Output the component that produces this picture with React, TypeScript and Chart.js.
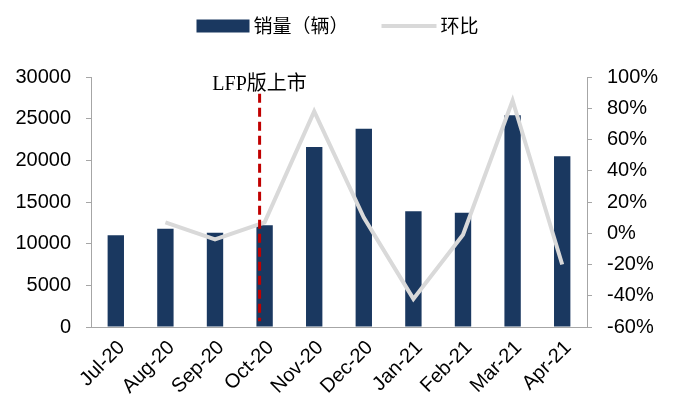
import React, { useEffect, useRef } from "react";
import { Chart, registerables } from "chart.js";

Chart.register(...registerables);

const categories = ["Jul-20", "Aug-20", "Sep-20", "Oct-20", "Nov-20", "Dec-20", "Jan-21", "Feb-21", "Mar-21", "Apr-21"];
const sales = [11000, 11800, 11300, 12200, 21600, 23800, 13900, 13700, 25400, 20500];
const mom = [null, 7, -4, 7, 78, 10, -42, -1, 85, -20];
const salesLabel = "销量（辆）";
const momLabel = "环比";
const leftTicks = [0, 5000, 10000, 15000, 20000, 25000, 30000];
const rightTicks = [-60, -40, -20, 0, 20, 40, 60, 80, 100];
const markerCategory = "Oct-20";
const markerText = "LFP版上市";
const markerTop = 28000;
const markerBottom = 700;

const BAR_COLOR = "#1a3860";
const LINE_COLOR = "#d9d9d9";
const AXIS_COLOR = "#a6a6a6";

const legendPlugin = {
  id: "customLegend",
  afterDraw(chart: any) {
    const ctx = chart.ctx;
    ctx.save();
    ctx.font = '19px "Noto Sans CJK SC", sans-serif';
    ctx.textBaseline = "middle";
    ctx.fillStyle = "#000";
    const w1 = ctx.measureText(salesLabel).width;
    const w2 = ctx.measureText(momLabel).width;
    const rectW = 53, rectH = 13, gapText = 4, gapItems = 33, lineW = 55;
    const total = rectW + gapText + w1 + gapItems + lineW + gapText + w2;
    let x = chart.width / 2 - total / 2;
    const cy = 26;
    ctx.fillStyle = BAR_COLOR;
    ctx.fillRect(x, cy - rectH / 2, rectW, rectH);
    x += rectW + gapText;
    ctx.fillStyle = "#000";
    ctx.textAlign = "left";
    ctx.fillText(salesLabel, x, cy);
    x += w1 + gapItems;
    ctx.strokeStyle = LINE_COLOR;
    ctx.lineWidth = 4;
    ctx.beginPath();
    ctx.moveTo(x, cy);
    ctx.lineTo(x + lineW, cy);
    ctx.stroke();
    x += lineW + gapText;
    ctx.fillText(momLabel, x, cy);
    ctx.restore();
  },
};

const markerPlugin = {
  id: "marker",
  afterDatasetsDraw(chart: any) {
    const ctx = chart.ctx;
    const xs = chart.scales.x;
    const ys = chart.scales.y;
    const idx = categories.indexOf(markerCategory);
    const x = xs.getPixelForValue(idx) - 5;
    ctx.save();
    ctx.strokeStyle = "#c00000";
    ctx.lineWidth = 3;
    ctx.setLineDash([9, 5]);
    ctx.beginPath();
    ctx.moveTo(x, ys.getPixelForValue(markerTop));
    ctx.lineTo(x, ys.getPixelForValue(markerBottom));
    ctx.stroke();
    ctx.setLineDash([]);
    ctx.font = '20px "Liberation Serif", "Noto Sans CJK SC", serif';
    ctx.fillStyle = "#000";
    ctx.textAlign = "center";
    ctx.textBaseline = "middle";
    ctx.fillText(markerText, x, chart.chartArea.top + 8);
    ctx.restore();
  },
};

export default function App() {
  const ref = useRef<HTMLCanvasElement>(null);
  useEffect(() => {
    document.body.style.margin = "0";
    const chart = new Chart(ref.current as HTMLCanvasElement, {
      type: "bar",
      data: {
        labels: categories,
        datasets: [
          {
            type: "line",
            label: momLabel,
            data: mom as any,
            yAxisID: "y1",
            borderColor: LINE_COLOR,
            backgroundColor: LINE_COLOR,
            borderWidth: 4,
            pointRadius: 0,
            tension: 0,
            order: 0,
          } as any,
          {
            type: "bar",
            label: salesLabel,
            data: sales,
            yAxisID: "y",
            backgroundColor: BAR_COLOR,
            barPercentage: 0.33,
            categoryPercentage: 1,
            order: 1,
          },
        ],
      },
      options: {
        responsive: false,
        animation: false,
        layout: { padding: { top: 77, bottom: 0, left: 0, right: 0 } },
        plugins: { legend: { display: false }, tooltip: { enabled: false } },
        scales: {
          x: {
            grid: { display: false, drawTicks: false },
            border: { display: true, color: AXIS_COLOR, width: 1 },
            ticks: {
              autoSkip: false,
              minRotation: 45,
              maxRotation: 45,
              padding: 9,
              labelOffset: 6,
              color: "#000",
              font: { family: '"Liberation Sans", Arial, sans-serif', size: 20 },
            },
            afterFit: (s: any) => { s.height = 83; },
          },
          y: {
            position: "left",
            min: 0,
            max: 30000,
            afterBuildTicks: (s: any) => { s.ticks = leftTicks.map((v) => ({ value: v })); },
            grid: { drawOnChartArea: false, drawTicks: true, tickLength: 5, color: AXIS_COLOR },
            border: { display: true, color: AXIS_COLOR, width: 1 },
            ticks: {
              padding: 15,
              color: "#000",
              callback: (v: any) => String(v),
              font: { family: '"Liberation Sans", Arial, sans-serif', size: 20 },
            },
            afterFit: (s: any) => { s.width = 91; },
          },
          y1: {
            position: "right",
            min: -60,
            max: 100,
            afterBuildTicks: (s: any) => { s.ticks = rightTicks.map((v) => ({ value: v })); },
            grid: { drawOnChartArea: false, drawTicks: true, tickLength: 5, color: AXIS_COLOR },
            border: { display: true, color: AXIS_COLOR, width: 1 },
            ticks: {
              padding: 15,
              color: "#000",
              callback: (v: any) => `${v}%`,
              font: { family: '"Liberation Sans", Arial, sans-serif', size: 20 },
            },
            afterFit: (s: any) => { s.width = 88; },
          },
        },
      },
      plugins: [legendPlugin, markerPlugin],
    });
    return () => chart.destroy();
  }, []);
  return (
    <div style={{ width: 675, height: 410 }}>
      <canvas ref={ref} width={675} height={410} />
    </div>
  );
}
